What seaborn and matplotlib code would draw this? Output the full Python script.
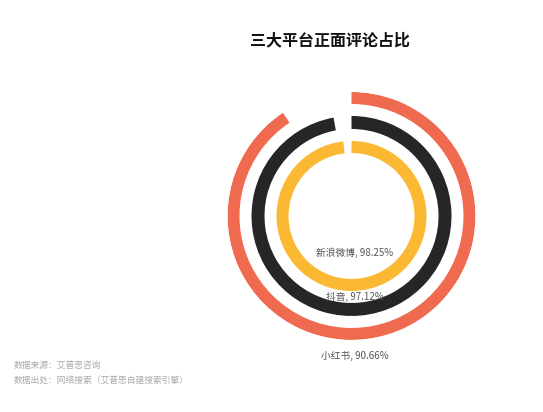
import numpy as np
import matplotlib
matplotlib.use("Agg")
import matplotlib.pyplot as plt
import matplotlib.transforms as mtransforms
import seaborn as sns

sns.set_theme(style="white")
plt.rcParams["font.family"] = ["Noto Sans CJK SC", "DejaVu Sans"]

# data
platforms = ["小红书", "抖音", "新浪微博"]
shares = [90.66, 97.12, 98.25]
colors = ["#F06A50", "#262626", "#FBB833"]
ring_radius = [118, 93.5, 69]
ring_width = [12, 13, 12]
label_r = [140, 81, 37]

fig = plt.figure(figsize=(5.43, 4.12), dpi=100)
ax = fig.add_axes([0.4190, 0.1748, 0.4567, 0.602], projection="polar")
ax.set_theta_zero_location("N")
ax.set_theta_direction(-1)

# labels sit a few pixels right of the ring centre
shift = mtransforms.offset_copy(ax.transData, fig=fig, x=3, y=0, units="dots")

for name, pct, c, r, w, lr in zip(platforms, shares, colors, ring_radius, ring_width, label_r):
    ax.barh(r, pct / 100 * 2 * np.pi, left=0, height=w, color=c, edgecolor="none")
    ax.text(np.pi, lr, f"{name}, {pct:.2f}%", ha="center", va="center",
            fontsize=7, color="#555555", clip_on=False, transform=shift)

ax.set_ylim(0, 124)
ax.set_xticks([])
ax.set_yticks([])
ax.grid(False)
ax.spines["polar"].set_visible(False)
ax.set_facecolor("none")

fig.text(330 / 543, 1 - 40 / 412, "三大平台正面评论占比", ha="center", va="center",
         fontsize=11.5, fontweight="bold", color="#111111")
fig.text(14 / 543, 1 - 366 / 412, "数据来源：艾普思咨询", ha="left", va="center",
         fontsize=6.3, color="#aaaaaa")
fig.text(14 / 543, 1 - 381 / 412, "数据出处：网络搜索（艾普思自建搜索引擎）", ha="left", va="center",
         fontsize=6.3, color="#aaaaaa")

fig.savefig("out.png", dpi=100)
